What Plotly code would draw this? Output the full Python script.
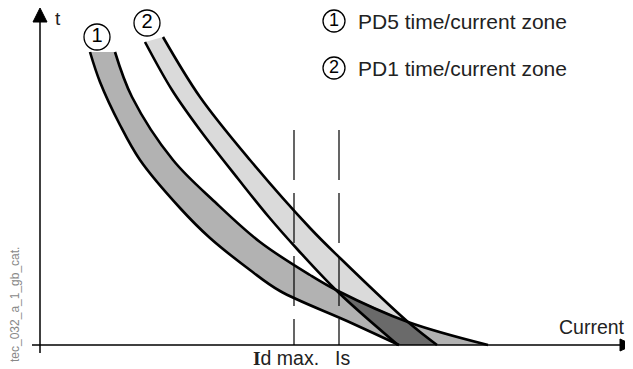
import plotly.graph_objects as go

# Curvas: corriente (x) y tiempo (y), origen en el cruce de ejes
zona1_izq_i = [50, 60, 80, 100, 140, 170, 210, 240, 307, 359]
zona1_izq_t = [293, 263, 220, 185, 137, 107, 75, 54, 24, 0]
zona1_der_i = [75, 92, 133, 175, 220, 270, 298, 368, 448]
zona1_der_t = [293, 248, 185, 143, 103, 70, 54, 23, 0]

zona2_izq_i = [105, 132, 160, 199, 228, 258, 298, 358]
zona2_izq_t = [303, 255, 215, 165, 129, 95, 53, 0]
zona2_der_i = [123, 160, 210, 270, 300, 368, 397]
zona2_der_t = [308, 248, 185, 117, 87, 23, 0]

# zona donde se solapan las dos bandas
solape_i = [298, 328, 358, 397, 368, 332]
solape_t = [53, 27, 0, 0, 23, 39]

# corrientes marcadas y altura de las guías
corrientes = {'Id max.': 254, 'Is': 299}
t_guia = 215

etiquetas_zona = ['1', '2']
textos_zona = ['PD5 time/current zone', 'PD1 time/current zone']

C_Z1, C_Z2, C_SOL = '#b2b2b2', '#dadada', '#6a6a6a'
FUENTE = 'Liberation Sans, Arial, sans-serif'
C_TXT = '#222'

fig = go.Figure()

# rellenos de las bandas (tonexty entre borde izquierdo y derecho)
for xi, ti, xd, td, col in [
    (zona1_izq_i, zona1_izq_t, zona1_der_i, zona1_der_t, C_Z1),
    (zona2_izq_i, zona2_izq_t, zona2_der_i, zona2_der_t, C_Z2),
]:
    fig.add_trace(go.Scatter(x=xi, y=ti, mode='lines', line=dict(width=0, shape='spline'),
                             hoverinfo='skip'))
    fig.add_trace(go.Scatter(x=xd, y=td, mode='lines', line=dict(width=0, shape='spline'),
                             fill='tonexty', fillcolor=col, hoverinfo='skip'))

fig.add_trace(go.Scatter(x=solape_i, y=solape_t, mode='lines', fill='toself',
                         fillcolor=C_SOL, line=dict(width=0), hoverinfo='skip'))

# bordes negros
for xs, ts in [(zona1_izq_i, zona1_izq_t), (zona1_der_i, zona1_der_t),
               (zona2_izq_i, zona2_izq_t), (zona2_der_i, zona2_der_t)]:
    fig.add_trace(go.Scatter(x=xs, y=ts, mode='lines',
                             line=dict(color='black', width=2.6, shape='spline'),
                             hoverinfo='skip'))

# líneas guía discontinuas (de arriba hacia el eje)
for nombre, xv in corrientes.items():
    fig.add_trace(go.Scatter(x=[xv, xv], y=[t_guia, 0], mode='lines',
                             line=dict(color='black', width=1.2, dash='50px,13px'),
                             hoverinfo='skip'))

# ejes con flecha
fig.add_shape(type='line', x0=0, x1=0, y0=-8, y1=325, line=dict(color='black', width=1.5))
fig.add_shape(type='line', x0=-8, x1=582, y0=0, y1=0, line=dict(color='black', width=1.5))
fig.add_shape(type='path', path='M -7,323 L 7,323 L 0,337 Z', fillcolor='black',
              line=dict(color='black', width=1))
fig.add_shape(type='path', path='M 580,-6 L 580,6 L 593,0 Z', fillcolor='black',
              line=dict(color='black', width=1))

# números dentro de círculos sobre las bandas y en la leyenda
fig.add_trace(go.Scatter(
    x=[57, 107], y=[308, 322], mode='markers+text', text=etiquetas_zona,
    textposition='middle center', textfont=dict(family=FUENTE, size=20, color='black'),
    marker=dict(size=26, color='white', line=dict(color='black', width=1.3)),
    hoverinfo='skip'))
fig.add_trace(go.Scatter(
    x=[294, 294], y=[324, 277], mode='markers+text', text=etiquetas_zona,
    textposition='middle center', textfont=dict(family=FUENTE, size=18, color='black'),
    marker=dict(size=22, color='white', line=dict(color='black', width=1.3)),
    hoverinfo='skip'))

for txt, yv in zip(textos_zona, [324, 277]):
    fig.add_annotation(x=316, y=yv, text=txt, showarrow=False, xanchor='left',
                       font=dict(family=FUENTE, size=21, color=C_TXT))

fig.add_annotation(x=18, y=327, text='t', showarrow=False,
                   font=dict(family=FUENTE, size=19, color=C_TXT))
fig.add_annotation(x=587, y=18, text='Current', showarrow=False, xanchor='right',
                   font=dict(family=FUENTE, size=19.5, color=C_TXT))
fig.add_annotation(x=246, y=-13, showarrow=False,
                   text="<span style=\"font-family:'Liberation Serif';font-weight:bold\">I</span>d max.",
                   font=dict(family=FUENTE, size=19.5, color=C_TXT))
fig.add_annotation(x=302, y=-13, text='Is', showarrow=False,
                   font=dict(family=FUENTE, size=19.5, color=C_TXT))
fig.add_annotation(x=-25, y=40, text='tec_032_a_1_gb_cat.', showarrow=False, textangle=-90,
                   font=dict(family=FUENTE, size=12, color='#888'))

# la página deja 8 px de margen: el lienzo ocupa 625x361 y el rango lo compensa
fig.update_xaxes(range=[-32, 593], visible=False, fixedrange=True)
fig.update_yaxes(range=[-24, 337], visible=False, fixedrange=True)
fig.update_layout(width=625, height=361, margin=dict(l=0, r=0, t=0, b=0),
                  plot_bgcolor='white', paper_bgcolor='white', showlegend=False)

fig.write_html('out.html')
